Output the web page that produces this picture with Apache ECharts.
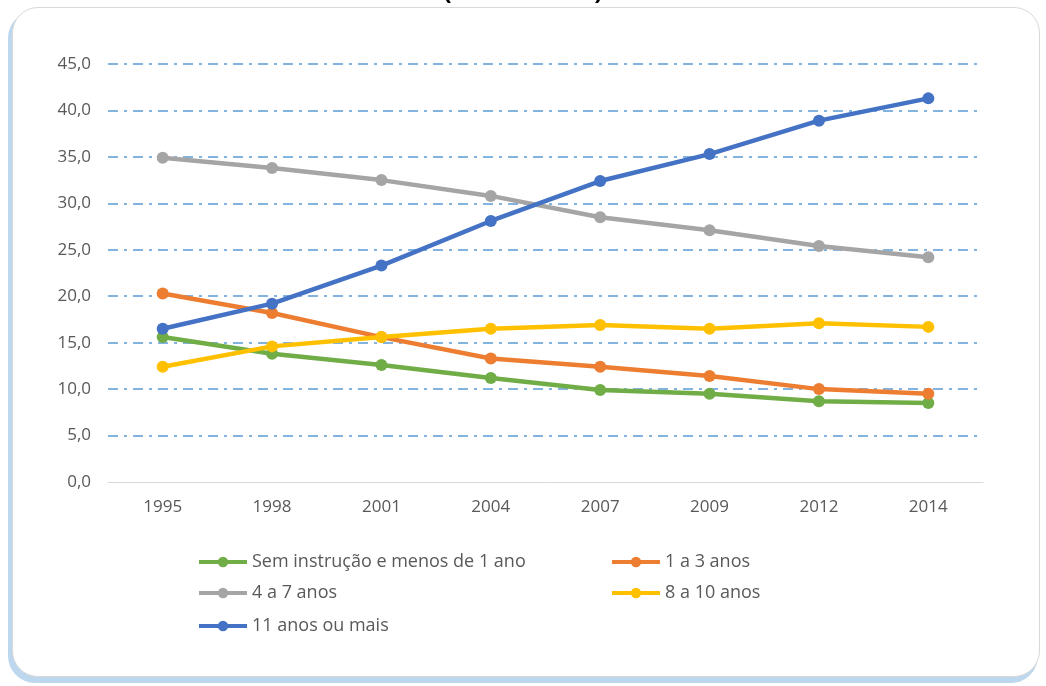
<!DOCTYPE html>
<html>
<head>
<meta charset="utf-8">
<script src="https://cdn.jsdelivr.net/npm/echarts@6/dist/echarts.min.js"></script>
<style>
  html, body { margin: 0; padding: 0; background: #ffffff; }
  #card {
    position: absolute; left: 12px; top: 7px; width: 1026px; height: 668px;
    border: 1px solid #d9d9d9; border-radius: 26px; background: #fff;
    box-shadow: -3px 5px 0 1px #bdd7ee;
  }
  #chart { position: absolute; left: 0; top: 0; width: 1046px; height: 686px; }
</style>
</head>
<body>
<div id="card"></div>
<div id="chart"></div>
<script>
const years = ['1995', '1998', '2001', '2004', '2007', '2009', '2012', '2014'];
const semInstrucao = [15.6, 13.8, 12.6, 11.2, 9.9, 9.5, 8.7, 8.5];
const anos1a3 = [20.3, 18.2, 15.6, 13.3, 12.4, 11.4, 10.0, 9.5];
const anos4a7 = [34.9, 33.8, 32.5, 30.8, 28.5, 27.1, 25.4, 24.2];
const anos8a10 = [12.4, 14.6, 15.6, 16.5, 16.9, 16.5, 17.1, 16.7];
const anos11mais = [16.5, 19.2, 23.3, 28.1, 32.4, 35.3, 38.9, 41.3];
const seriesNames = ['Sem instrução e menos de 1 ano', '1 a 3 anos', '4 a 7 anos', '8 a 10 anos', '11 anos ou mais'];
const seriesColors = ['#70ad47', '#ed7d31', '#a5a5a5', '#ffc000', '#4472c4'];
const seriesData = [semInstrucao, anos1a3, anos4a7, anos8a10, anos11mais];

const chart = echarts.init(document.getElementById('chart'), null, { renderer: 'canvas' });
const font = '"Open Sans", "Noto Sans", sans-serif';
const legendPos = [[197, 553], [610, 553], [197, 584], [610, 584], [197, 617]];

const option = {
  backgroundColor: 'transparent',
  animation: false,
  title: {
    text: '(1995 a 2014)', left: 'center', top: -26,
    textStyle: { fontSize: 25, fontWeight: 'bold', color: '#000', fontFamily: font }
  },
  grid: { left: 108, right: 63, top: 64, bottom: 204, containLabel: false },
  legend: seriesNames.map((n, i) => ({
    data: [n], left: legendPos[i][0], top: legendPos[i][1], padding: 0,
    itemWidth: 48, itemHeight: 13,
    lineStyle: { width: 4 },
    textStyle: { fontSize: 18, color: '#595959', fontFamily: font }
  })),
  xAxis: {
    type: 'category', data: years, boundaryGap: true,
    axisLine: { show: true, lineStyle: { color: '#d9d9d9', width: 1 } },
    axisTick: { show: false },
    axisLabel: { color: '#595959', fontSize: 17, fontFamily: font, margin: 17 }
  },
  yAxis: {
    type: 'value', min: 0, max: 45, interval: 5,
    axisLine: { show: false }, axisTick: { show: false },
    axisLabel: {
      color: '#595959', fontSize: 17, fontFamily: font, margin: 17,
      formatter: v => v.toFixed(1).replace('.', ',')
    },
    splitLine: { showMinLine: false, lineStyle: { color: '#5b9bd5', width: 1.5, type: [10, 6, 3, 6] } }
  },
  series: seriesNames.map((n, i) => ({
    name: n, type: 'line', data: seriesData[i],
    symbol: 'circle', symbolSize: 12,
    lineStyle: { color: seriesColors[i], width: 4.5 },
    itemStyle: { color: seriesColors[i] },
    z: [2, 3, 2, 4, 5][i]
  }))
};
chart.setOption(option);
</script>
</body>
</html>
